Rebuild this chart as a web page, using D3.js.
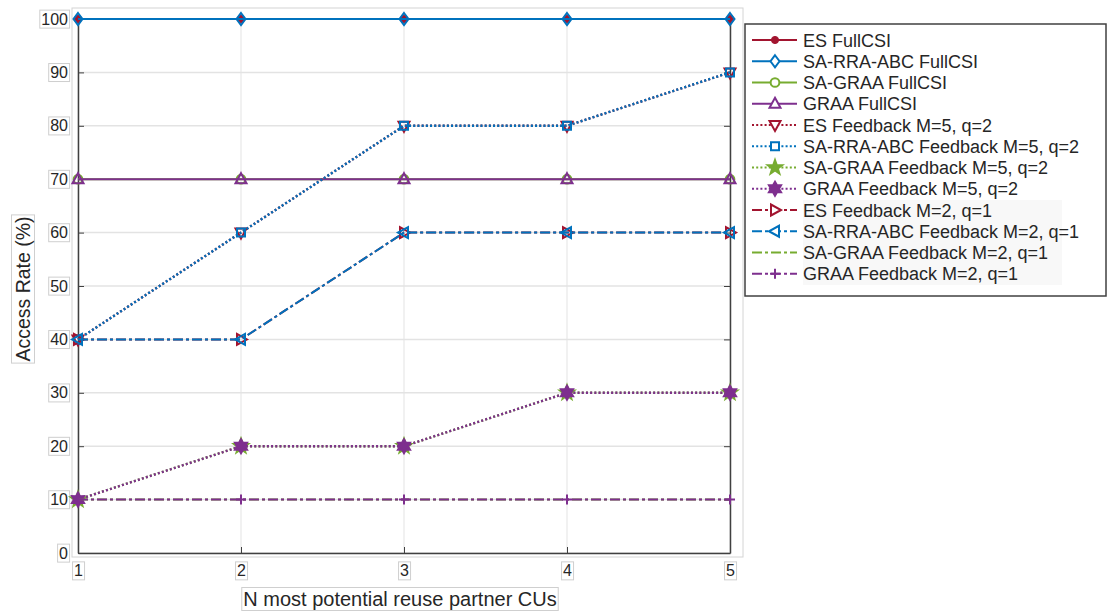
<!DOCTYPE html>
<html>
<head>
<meta charset="utf-8">
<script src="https://cdn.jsdelivr.net/npm/d3@7"></script>
<style>
body { margin: 0; background: #fff; }
svg { font-family: "Liberation Sans", Arial, sans-serif; }
</style>
</head>
<body>
<svg id="graph" width="1113" height="615"></svg>
<script>
var xValues = [1, 2, 3, 4, 5]
var yTicks = [0, 10, 20, 30, 40, 50, 60, 70, 80, 90, 100]

var esFull = [100, 100, 100, 100, 100]
var rraFull = [100, 100, 100, 100, 100]
var sagraaFull = [70, 70, 70, 70, 70]
var graaFull = [70, 70, 70, 70, 70]
var esFb52 = [40, 60, 80, 80, 90]
var rraFb52 = [40, 60, 80, 80, 90]
var sagraaFb52 = [10, 20, 20, 30, 30]
var graaFb52 = [10, 20, 20, 30, 30]
var esFb21 = [40, 40, 60, 60, 60]
var rraFb21 = [40, 40, 60, 60, 60]
var sagraaFb21 = [10, 10, 10, 10, 10]
var graaFb21 = [10, 10, 10, 10, 10]

var red = "#A2142F", blue = "#0072BD", green = "#77AC30", purple = "#7E2F8E"
var solid = null, dotted = "2,2.2", dashdot = "10,3,3,3"

var series = [
    { name: "ES FullCSI", values: esFull, color: red, dash: solid, marker: "dot" },
    { name: "SA-RRA-ABC FullCSI", values: rraFull, color: blue, dash: solid, marker: "diamond" },
    { name: "SA-GRAA FullCSI", values: sagraaFull, color: green, dash: solid, marker: "circle" },
    { name: "GRAA FullCSI", values: graaFull, color: purple, dash: solid, marker: "triup" },
    { name: "ES Feedback M=5, q=2", values: esFb52, color: red, dash: dotted, marker: "tridown" },
    { name: "SA-RRA-ABC Feedback M=5, q=2", values: rraFb52, color: blue, dash: dotted, marker: "square" },
    { name: "SA-GRAA Feedback M=5, q=2", values: sagraaFb52, color: green, dash: dotted, marker: "pentagram" },
    { name: "GRAA Feedback M=5, q=2", values: graaFb52, color: purple, dash: dotted, marker: "hexagram" },
    { name: "ES Feedback M=2, q=1", values: esFb21, color: red, dash: dashdot, marker: "triright" },
    { name: "SA-RRA-ABC Feedback M=2, q=1", values: rraFb21, color: blue, dash: dashdot, marker: "trileft" },
    { name: "SA-GRAA Feedback M=2, q=1", values: sagraaFb21, color: green, dash: dashdot, marker: "none" },
    { name: "GRAA Feedback M=2, q=1", values: graaFb21, color: purple, dash: dashdot, marker: "plus" }
]

var plot = { left: 78, right: 730, top: 19, bottom: 553 }
var svg = d3.select("#graph")

var xScale = d3.scaleLinear().domain([1, 5]).range([plot.left, plot.right])
var yScale = d3.scaleLinear().domain([0, 100]).range([plot.bottom, plot.top])

function star(n, R, r) {
    var pts = []
    for (var i = 0; i < 2 * n; i++) {
        var a = -Math.PI / 2 + i * Math.PI / n
        var rad = i % 2 == 0 ? R : r
        pts.push([rad * Math.cos(a), rad * Math.sin(a)])
    }
    return "M" + pts.join("L") + "Z"
}

var markerPaths = {
    dot: d3.symbol(d3.symbolCircle, 40)(),
    diamond: "M0,-6L4.5,0L0,6L-4.5,0Z",
    circle: d3.symbol(d3.symbolCircle, 60)(),
    triup: "M0,-6L5.5,4L-5.5,4Z",
    tridown: "M0,6L5.5,-4L-5.5,-4Z",
    triright: "M6,0L-4,5.5L-4,-5.5Z",
    trileft: "M-6,0L4,5.5L4,-5.5Z",
    square: "M-4,-4L4,-4L4,4L-4,4Z",
    pentagram: star(5, 7.5, 3),
    hexagram: star(6, 7, 4),
    plus: "M-5,0L5,0M0,-5L0,5",
    none: ""
}
var filledMarkers = { dot: true, pentagram: true, hexagram: true }

// outer light frame
svg.append("rect")
    .attr("x", 72).attr("y", 8).attr("width", 671).attr("height", 549)
    .attr("fill", "none").attr("stroke", "#d4d4d4").attr("stroke-width", 1)

// grid
svg.append("g").selectAll("line")
    .data(yTicks)
    .enter().append("line")
    .attr("x1", plot.left).attr("x2", plot.right)
    .attr("y1", d => yScale(d)).attr("y2", d => yScale(d))
    .attr("stroke", "#e3e3e3").attr("stroke-width", 1.5)

svg.append("g").selectAll("line")
    .data(xValues)
    .enter().append("line")
    .attr("x1", d => xScale(d)).attr("x2", d => xScale(d))
    .attr("y1", plot.top).attr("y2", plot.bottom)
    .attr("stroke", "#e3e3e3").attr("stroke-width", 1)

// axes (ticks inward)
var yAxis = svg.append("g")
    .attr("transform", "translate(" + plot.left + ",0)")
    .call(d3.axisLeft(yScale).tickValues(yTicks).tickSize(-6).tickPadding(10).tickSizeOuter(0))
var yAxisR = svg.append("g")
    .attr("transform", "translate(" + plot.right + ",0)")
    .call(d3.axisRight(yScale).tickValues(yTicks).tickSize(-6).tickFormat("").tickSizeOuter(0))
var xAxis = svg.append("g")
    .attr("transform", "translate(0," + plot.bottom + ")")
    .call(d3.axisBottom(xScale).tickValues(xValues).tickSize(-6).tickPadding(12).tickFormat(d3.format("d")).tickSizeOuter(0))

svg.selectAll(".domain").attr("stroke", "#404040").attr("stroke-width", 1.5)
svg.selectAll(".tick line").attr("stroke", "#404040").attr("stroke-width", 1)
svg.selectAll(".tick text").attr("fill", "#262626").style("font-size", "16px")
svg.append("line")
    .attr("x1", plot.left).attr("x2", plot.right)
    .attr("y1", plot.top).attr("y2", plot.top)
    .attr("stroke", "#404040").attr("stroke-width", 1.5)

// boxes around tick labels
function boxText(sel, pad) {
    sel.each(function () {
        var b = this.getBBox()
        d3.select(this.parentNode).insert("rect", "text")
            .attr("x", b.x - pad).attr("y", b.y - pad + 1)
            .attr("width", b.width + 2 * pad).attr("height", b.height + 2 * pad - 2)
            .attr("fill", "#fff").attr("stroke", "#cfcfcf").attr("stroke-width", 1)
    })
}
boxText(yAxis.selectAll(".tick text"), 1.5)
boxText(xAxis.selectAll(".tick text"), 1.5)

// lines and markers
var line = d3.line()
    .x((d, i) => xScale(xValues[i]))
    .y(d => yScale(d))

var lines = svg.append("g")
series.forEach(function (s) {
    var g = lines.append("g")
    g.append("path")
        .datum(s.values)
        .attr("d", line)
        .attr("fill", "none")
        .attr("stroke", s.color)
        .attr("stroke-width", s.dash == dotted ? 2.4 : 2)
        .attr("stroke-dasharray", s.dash)
    g.selectAll(".mk")
        .data(s.values)
        .enter().append("path")
        .attr("class", "mk")
        .attr("transform", (d, i) => "translate(" + xScale(xValues[i]) + "," + yScale(d) + ")")
        .attr("d", markerPaths[s.marker])
        .attr("fill", filledMarkers[s.marker] ? s.color : "none")
        .attr("stroke", s.color)
        .attr("stroke-width", s.marker == "dot" ? 1 : 2)
        .attr("stroke-linejoin", "miter")
})

// axis labels
var xl = svg.append("g")
xl.append("text")
    .attr("x", 400).attr("y", 606)
    .attr("text-anchor", "middle")
    .attr("fill", "#262626")
    .style("font-size", "20px")
    .text("N most potential reuse partner CUs")
boxText(xl.selectAll("text"), 1.5)

var yl = svg.append("g").attr("transform", "translate(30,289) rotate(-90)")
yl.append("text")
    .attr("x", 0).attr("y", 0)
    .attr("text-anchor", "middle")
    .attr("fill", "#262626")
    .style("font-size", "19.5px")
    .text("Access Rate (%)")
boxText(yl.selectAll("text"), 1.5)

// legend
var leg = svg.append("g")
leg.append("rect")
    .attr("x", 745).attr("y", 24).attr("width", 361).attr("height", 272)
    .attr("fill", "#fff").attr("stroke", "#404040").attr("stroke-width", 1.5)
leg.append("rect")
    .attr("x", 803).attr("y", 200).attr("width", 259).attr("height", 85)
    .attr("fill", "#f8f8f8")

var rowH = 21.25
var items = leg.selectAll(".item")
    .data(series)
    .enter().append("g")
    .attr("class", "item")
    .attr("transform", (d, i) => "translate(0," + (40 + i * rowH) + ")")

items.append("line")
    .attr("x1", 752).attr("x2", 797)
    .attr("y1", 0).attr("y2", 0)
    .attr("stroke", d => d.color)
    .attr("stroke-width", 2)
    .attr("stroke-dasharray", d => d.dash)
items.append("path")
    .attr("transform", "translate(775,0)")
    .attr("d", d => markerPaths[d.marker])
    .attr("fill", d => filledMarkers[d.marker] ? d.color : "#fff")
    .attr("stroke", d => d.color)
    .attr("stroke-width", d => d.marker == "dot" ? 1 : 2)
items.append("text")
    .attr("x", 803).attr("y", 6.5)
    .attr("fill", "#262626")
    .style("font-size", "18px")
    .text(d => d.name)
</script>
</body>
</html>
